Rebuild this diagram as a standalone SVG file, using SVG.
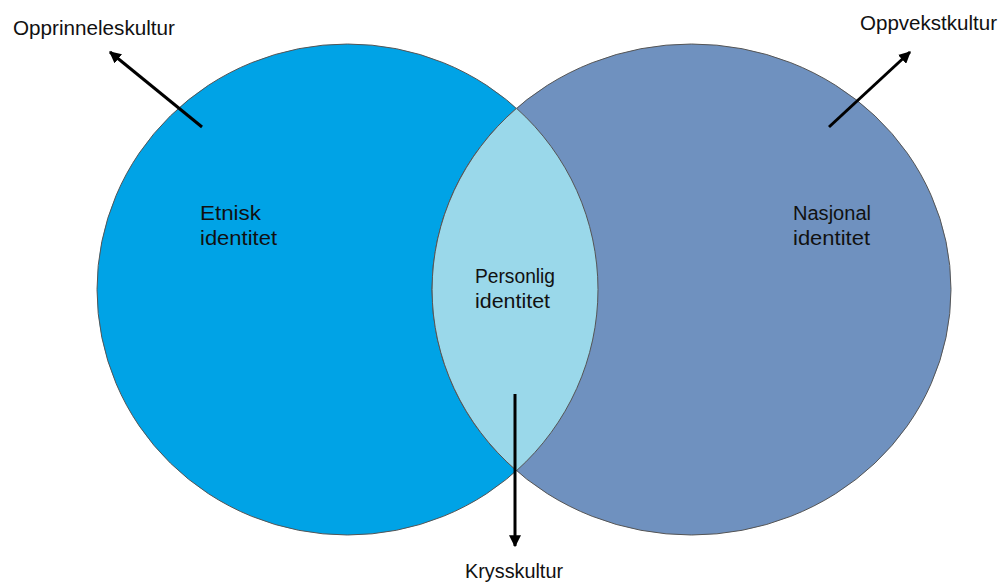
<svg xmlns="http://www.w3.org/2000/svg" width="1000" height="583" viewBox="0 0 1000 583">
<defs>
<style>
.lbl{font-family:"Liberation Sans","Open Sans",Arial,sans-serif;font-size:19.5px;fill:#111}
.ring{stroke:#555;stroke-width:1}
.conn{stroke:#000;stroke-width:3;fill:none;marker-end:url(#ah)}
</style>
<marker id="ah" viewBox="0 0 10 10" refX="9" refY="5" markerWidth="4" markerHeight="4" orient="auto" markerUnits="strokeWidth">
<path d="M0,0 L10,5 L0,10 z" fill="#000"/>
</marker>
</defs>
<rect width="1000" height="583" fill="#fff"/>
<g id="etnisk">
<ellipse class="ring" cx="347.5" cy="289.5" rx="250.5" ry="245.5" fill="#00A3E6"/>
</g>
<g id="nasjonal">
<ellipse class="ring" cx="691.5" cy="289.5" rx="259.5" ry="245.5" fill="#6F91BF"/>
</g>
<g id="personlig">
<path class="ring" d="M516.5,108.3 A250.5,245.5 0 0 1 516.5,470.7 A259.5,245.5 0 0 1 516.5,108.3 Z" fill="#9AD8EA"/>
</g>
<g id="connectors">
<line class="conn" x1="202" y1="127" x2="110" y2="52"/>
<line class="conn" x1="829" y1="127" x2="910" y2="52"/>
<line class="conn" x1="515" y1="394" x2="515" y2="546"/>
</g>
<g id="labels">
<text class="lbl" x="13" y="35" textLength="162" lengthAdjust="spacingAndGlyphs">Opprinneleskultur</text>
<text class="lbl" x="860" y="30" textLength="137" lengthAdjust="spacingAndGlyphs">Oppvekstkultur</text>
<text class="lbl" x="465" y="578" textLength="98" lengthAdjust="spacingAndGlyphs">Krysskultur</text>
<text class="lbl" x="200" y="220" textLength="61" lengthAdjust="spacingAndGlyphs">Etnisk</text>
<text class="lbl" x="200" y="245" textLength="77" lengthAdjust="spacingAndGlyphs">identitet</text>
<text class="lbl" x="793" y="220" textLength="78" lengthAdjust="spacingAndGlyphs">Nasjonal</text>
<text class="lbl" x="793" y="245" textLength="77" lengthAdjust="spacingAndGlyphs">identitet</text>
<text class="lbl" x="475" y="283" textLength="80" lengthAdjust="spacingAndGlyphs">Personlig</text>
<text class="lbl" x="475" y="308" textLength="75" lengthAdjust="spacingAndGlyphs">identitet</text>
</g>
</svg>
